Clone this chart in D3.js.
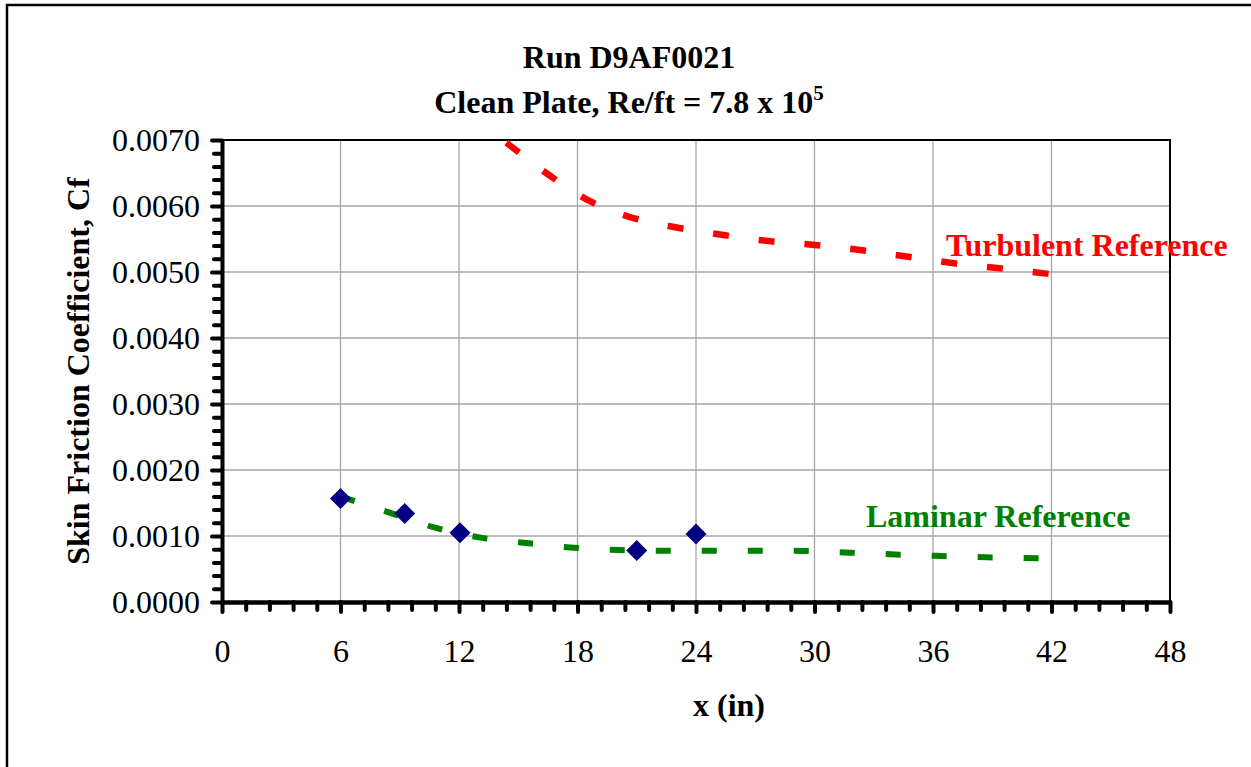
<html>
<head>
<meta charset="utf-8">
<script src="https://d3js.org/d3.v7.min.js"></script>
<style>
body { margin: 0; background: #fff; }
svg { display: block; }
text { font-family: "Liberation Serif", "Times New Roman", serif; }
.axis path, .axis line { stroke: #000; }
.axis text { font-size: 32px; fill: #000; }
.grid line { stroke: #a6a6a6; stroke-width: 1.3; }
</style>
</head>
<body>
<svg width="1251" height="767"></svg>
<script>

// measured data (Cf)
var xMeas = [6, 9.25, 12.05, 21.0, 24.0];
var cfMeas = [0.00157, 0.00134, 0.00105, 0.00078, 0.00103];

// laminar reference curve
var xLam = [6, 8.6, 10.8, 13.1, 15.4, 17.8, 20.1, 22.4, 24.8, 27.1, 29.4, 31.8, 34.1, 36.4, 38.7, 41.4];
var cfLam = [0.00160, 0.001343, 0.001126, 0.000975, 0.000894, 0.000823, 0.000788, 0.000778, 0.000778, 0.000778, 0.000773, 0.000747, 0.00072, 0.000697, 0.000677, 0.000664];

// turbulent reference curve
var xTurb = [14.4, 16.72, 18.68, 20.88, 23.15, 25.47, 27.78, 30.0, 32.4, 34.73, 37.06, 39.39, 41.9];
var cfTurb = [0.00696, 0.006435, 0.006065, 0.005813, 0.005667, 0.005556, 0.005465, 0.00541, 0.00533, 0.005232, 0.005132, 0.005056, 0.00497];

var xMajor = [0, 6, 12, 18, 24, 30, 36, 42, 48];
var yMajor = [0, 0.001, 0.002, 0.003, 0.004, 0.005, 0.006, 0.007];

var svg = d3.select("svg");

var x = d3.scaleLinear().domain([0, 48]).range([222, 1170]);
var y = d3.scaleLinear().domain([0, 0.007]).range([602, 140]);

var xMinor = d3.range(0, 48.01, 1.2).filter(v => Math.abs(v / 6 - Math.round(v / 6)) > 1e-6);
var yMinor = d3.range(0, 0.00701, 0.0002).filter(v => Math.abs(v / 0.001 - Math.round(v / 0.001)) > 1e-6);

// outer border
svg.append("rect")
    .attr("x", 7).attr("y", 5).attr("width", 1270).attr("height", 800)
    .attr("fill", "none").attr("stroke", "#000").attr("stroke-width", 2.5);

// gridlines
svg.append("g").attr("class", "grid")
    .selectAll("line").data(xMajor.slice(1, -1)).enter().append("line")
    .attr("x1", d => x(d)).attr("x2", d => x(d))
    .attr("y1", y(0)).attr("y2", y(0.007));
svg.append("g").attr("class", "grid")
    .selectAll("line").data(yMajor.slice(1, -1)).enter().append("line")
    .attr("x1", x(0)).attr("x2", x(48))
    .attr("y1", d => y(d)).attr("y2", d => y(d));

// plot frame (top, right)
svg.append("path")
    .attr("d", "M" + x(0) + "," + y(0.007) + "H" + x(48) + "V" + y(0))
    .attr("fill", "none").attr("stroke", "#000").attr("stroke-width", 2);

// reference curves
var line = d3.line().x(d => x(d[0])).y(d => y(d[1])).curve(d3.curveMonotoneX);

svg.append("path")
    .datum(d3.zip(xTurb, cfTurb))
    .attr("d", line)
    .attr("fill", "none").attr("stroke", "#ff0000")
    .attr("stroke-width", 6.5).attr("stroke-dasharray", "16,30");

svg.append("path")
    .datum(d3.zip(xLam, cfLam))
    .attr("d", line)
    .attr("fill", "none").attr("stroke", "#008000")
    .attr("stroke-width", 6).attr("stroke-dasharray", "15,31");

// axes
function styleAxis(g, w) {
    g.select(".domain").attr("stroke-width", w);
    g.selectAll(".tick line").attr("stroke-width", 4).attr("stroke-linecap", "round");
}

svg.append("g").attr("class", "axis")
    .attr("transform", "translate(0," + y(0) + ")")
    .call(d3.axisBottom(x).tickValues(xMinor).tickSize(8).tickFormat("").tickSizeOuter(0))
    .call(g => { g.select(".domain").remove(); styleAxis(g, 4); });

svg.append("g").attr("class", "axis")
    .attr("transform", "translate(" + x(0) + ",0)")
    .call(d3.axisLeft(y).tickValues(yMinor).tickSize(8).tickFormat("").tickSizeOuter(0))
    .call(g => { g.select(".domain").remove(); styleAxis(g, 4); });

svg.append("g").attr("class", "axis")
    .attr("transform", "translate(0," + y(0) + ")")
    .call(d3.axisBottom(x).tickValues(xMajor).tickSize(10).tickPadding(27).tickSizeOuter(0).tickFormat(d3.format("d")))
    .call(g => styleAxis(g, 4.5));

svg.append("g").attr("class", "axis")
    .attr("transform", "translate(" + x(0) + ",0)")
    .call(d3.axisLeft(y).tickValues(yMajor).tickSize(10).tickPadding(12).tickSizeOuter(0).tickFormat(d3.format(".4f")))
    .call(g => styleAxis(g, 4));

// measured points
svg.append("g").selectAll("path")
    .data(d3.zip(xMeas, cfMeas)).enter().append("path")
    .attr("transform", d => "translate(" + x(d[0]) + "," + y(d[1]) + ")")
    .attr("d", "M0,-10.5L10.5,0L0,10.5L-10.5,0Z")
    .attr("fill", "#000080");

// titles
svg.append("text")
    .attr("x", 629).attr("y", 68)
    .attr("text-anchor", "middle")
    .style("font-size", "32px").style("font-weight", "bold")
    .text("Run D9AF0021");

var t2 = svg.append("text")
    .attr("x", 629).attr("y", 113)
    .attr("text-anchor", "middle")
    .style("font-size", "32px").style("font-weight", "bold");
t2.append("tspan").text("Clean Plate, Re/ft = 7.8 x 10");
t2.append("tspan").attr("dy", -13).style("font-size", "21px").text("5");

svg.append("text")
    .attr("x", 729).attr("y", 716)
    .attr("text-anchor", "middle")
    .style("font-size", "32px").style("font-weight", "bold")
    .text("x (in)");

svg.append("text")
    .attr("transform", "translate(89," + 371 + ") rotate(-90)")
    .attr("text-anchor", "middle")
    .style("font-size", "32px").style("font-weight", "bold")
    .text("Skin Friction Coefficient, Cf");

svg.append("text")
    .attr("x", 946).attr("y", 256)
    .style("font-size", "32px").style("font-weight", "bold")
    .attr("fill", "#ff0000")
    .text("Turbulent Reference");

svg.append("text")
    .attr("x", 866).attr("y", 527)
    .style("font-size", "32px").style("font-weight", "bold")
    .attr("fill", "#008000")
    .text("Laminar Reference");

</script>
</body>
</html>
